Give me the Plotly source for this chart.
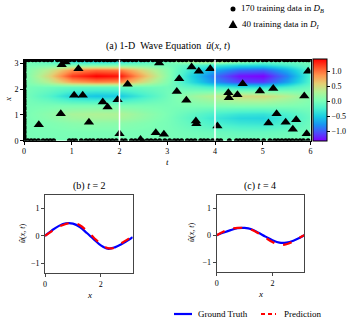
import numpy as np
import plotly.graph_objects as go

# heatmap grid
t_grid = [0, 0.5, 1.0, 1.5, 2.0, 2.5, 3.0, 3.5, 4.0, 4.5, 5.0, 5.5, 6.0]
x_grid = [0, 0.35, 0.7, 0.88, 1.05, 1.4, 1.76, 2.1, 2.3, 2.53, 2.75, 2.95, 3.1416]
u_grid = [
    [0, 0, 0, 0, 0, 0, 0, 0, 0, 0, 0, 0, 0],
    [0, .01, .02, .02, .02, .01, 0, -.04, -.07, -.1, -.1, -.07, -.02],
    [0, .04, .1, .12, .11, .06, 0, -.12, -.25, -.33, -.35, -.23, -.05],
    [0, .09, .21, .25, .24, .13, .01, -.16, -.32, -.43, -.45, -.29, -.07],
    [0, .11, .26, .3, .29, .15, .02, -.12, -.25, -.33, -.35, -.23, -.05],
    [0, 0, 0, 0, 0, 0, 0, .04, .07, .1, .1, .07, .02],
    [0, -.19, -.47, -.55, -.52, -.28, -.04, .18, .35, .48, .5, .33, .08],
    [0, -.04, -.09, -.1, -.1, -.05, -.03, -.15, -.28, -.38, -.4, -.26, -.06],
    [0, .32, .78, .92, .88, .47, .06, -.4, -.8, -1.08, -1.12, -.72, -.17],
    [0, .5, 1.2, 1.4, 1.33, .72, .12, -.47, -.93, -1.27, -1.32, -.86, -.2],
    [0, .35, .85, 1.0, .95, .5, .08, -.34, -.68, -.93, -.98, -.64, -.15],
    [0, 0, 0, 0, 0, 0, -.02, -.14, -.27, -.37, -.39, -.25, -.06],
    [0, -.21, -.51, -.6, -.57, -.3, -.06, .45, .6, .35, .1, .05, .02],
]

# boundary training points
left_x = [0.05, 0.12, 0.2, 0.31, 0.38, 0.47, 0.55, 0.66, 0.74, 0.83, 0.95, 1.02, 1.1, 1.22, 1.3,
          1.41, 1.5, 1.58, 1.69, 1.77, 1.86, 1.95, 2.08, 2.15, 2.24, 2.33, 2.45, 2.52, 2.6, 2.71,
          2.8, 2.89, 2.97, 3.05, 3.12]
bottom_t = [0.08, 0.15, 0.22, 0.3, 0.4, 0.48, 0.55, 0.62, 0.95, 1.02, 1.08, 1.2, 1.3, 1.38, 1.45,
            1.55, 1.62, 1.7, 1.78, 1.85, 1.93, 2.05, 2.12, 2.25, 2.33, 2.48, 2.58, 2.66, 2.75, 2.84,
            2.95, 3.05, 3.15, 3.22, 3.3, 3.42, 3.5, 3.58, 3.7, 3.77, 3.85, 3.95, 4.05, 4.12, 4.3,
            4.45, 4.52, 4.6, 4.67, 4.75, 4.82, 4.9, 5.02, 5.15, 5.25, 5.32, 5.4, 5.48, 5.55, 5.62,
            5.7, 5.78, 5.85, 5.95]
top_t = [0.04, 0.1, 0.18, 0.25, 0.33, 0.42, 0.5, 0.58, 0.7, 0.78, 0.88, 0.96, 1.05, 1.15, 1.22,
         1.32, 1.4, 1.5, 1.58, 1.67, 1.75, 1.82, 1.9, 2.0, 2.1, 2.18, 2.27, 2.35, 2.45, 2.52,
         2.6, 2.7, 2.78, 2.88, 2.97, 3.06, 3.14, 3.24, 3.32, 3.4, 3.5, 3.6, 3.68, 3.76, 3.85,
         3.93, 4.02, 4.1, 4.2, 4.28, 4.37, 4.45, 4.55, 4.63, 4.72, 4.8, 4.9, 5.0, 5.08, 5.18,
         5.27, 5.35, 5.45, 5.52, 5.6, 5.68, 5.77, 5.85, 5.92, 5.96, 5.99]

# interior training points
tri_t = [0.31, 0.77, 0.79, 0.87, 1.14, 1.05, 1.23, 1.36, 1.65, 1.75, 1.96, 2.0, 2.17, 2.44, 2.76,
         2.93, 2.83, 3.25, 3.2, 3.4, 3.51, 3.66, 3.6, 3.61, 3.9, 4.05, 4.58, 4.28, 4.29, 4.47,
         4.94, 5.22, 5.87, 5.95, 5.29, 5.12, 5.48, 5.7, 5.63, 5.92]
tri_x = [0.62, 1.05, 2.95, 3.05, 2.79, 1.76, 1.76, 0.72, 1.5, 1.31, 1.59, 0.27, 2.19, 0.05, 0.31,
         0.25, 3.01, 2.4, 1.91, 1.57, 2.86, 2.69, 0.76, 0.66, 2.79, 0.57, 2.21, 1.86, 1.67, 1.78,
         1.93, 2.02, 1.73, 2.69, 1.05, 0.69, 0.72, 0.81, 0.44, 0.27]

# slices
x_line = [0, 0.25, 0.5, 0.75, 1.0, 1.25, 1.5, 1.75, 2.0, 2.25, 2.5, 2.75, 3.0, 3.1416]
gt_t2 = [0, 0.2, 0.36, 0.45, 0.44, 0.32, 0.1, -0.13, -0.35, -0.47, -0.42, -0.3, -0.15, -0.05]
pr_t2 = [0, 0.17, 0.33, 0.43, 0.47, 0.38, 0.18, -0.07, -0.3, -0.45, -0.43, -0.26, -0.1, 0.0]
gt_t4 = [0, 0.1, 0.19, 0.26, 0.27, 0.22, 0.09, -0.05, -0.18, -0.27, -0.27, -0.2, -0.08, 0]
pr_t4 = [0, 0.14, 0.23, 0.27, 0.27, 0.2, 0.07, -0.09, -0.25, -0.35, -0.33, -0.22, -0.07, 0]

FONT = "Liberation Serif"
W, H = 354, 325

# matplotlib 'rainbow'
rainbow = []
for f in np.linspace(0, 1, 11):
    r = min(1, abs(2 * f - 0.5)); g = np.sin(np.pi * f); b = max(0, np.cos(np.pi * f / 2))
    rainbow.append([float(f), f"rgb({int(r*255)},{int(g*255)},{int(b*255)})"])

def px(x0, x1):
    return [x0 / W, x1 / W]

def py(y0, y1):  # top, bottom in pixels
    return [1 - y1 / H, 1 - y0 / H]

fig = go.Figure()
fig.add_trace(go.Heatmap(x=t_grid, y=x_grid, z=u_grid, zsmooth="best", colorscale=rainbow,
                         zmin=-1.33, zmax=1.4, xaxis="x", yaxis="y", showlegend=False,
                         colorbar=dict(x=313 / W, xanchor="left", thickness=14, len=82 / H,
                                       lenmode="fraction", y=1 - 100 / H, yanchor="middle",
                                       ypad=0, xpad=0,
                                       outlinewidth=1, outlinecolor="black",
                                       tickmode="array", tickvals=[-1, -0.5, 0, 0.5, 1],
                                       ticktext=["−1.0", "−0.5", "0.0", "0.5", "1.0"],
                                       ticks="outside", ticklen=3, tickcolor="black",
                                       tickfont=dict(family=FONT, size=8, color="black"))))

bt = [0] * len(left_x) + bottom_t + top_t
bx = left_x + [0] * len(bottom_t) + [3.1416] * len(top_t)
fig.add_trace(go.Scatter(x=bt, y=bx, mode="markers", xaxis="x", yaxis="y", showlegend=False,
                         marker=dict(symbol="circle", size=5, color="black"),
                         name="170 training data in D_B"))
fig.add_trace(go.Scatter(x=tri_t, y=tri_x, mode="markers", xaxis="x", yaxis="y", showlegend=False,
                         marker=dict(symbol="triangle-up", size=9, color="black"),
                         name="40 training data in D_I"))

fig.add_trace(go.Scatter(x=x_line, y=gt_t2, mode="lines", line=dict(color="blue", width=2.2, shape="spline"),
                         xaxis="x2", yaxis="y2", name="Ground Truth", showlegend=False))
fig.add_trace(go.Scatter(x=x_line, y=pr_t2, mode="lines", line=dict(color="red", width=2.2, dash="dash", shape="spline"),
                         xaxis="x2", yaxis="y2", name="Prediction", showlegend=False))
fig.add_trace(go.Scatter(x=x_line, y=gt_t4, mode="lines", line=dict(color="blue", width=2.2, shape="spline"),
                         xaxis="x3", yaxis="y3", showlegend=False))
fig.add_trace(go.Scatter(x=x_line, y=pr_t4, mode="lines", line=dict(color="red", width=2.2, dash="dash", shape="spline"),
                         xaxis="x3", yaxis="y3", showlegend=False))

for tv in [2, 4]:
    fig.add_shape(type="line", x0=tv, x1=tv, y0=0, y1=1, xref="x", yref="y domain",
                  line=dict(color="white", width=1.5))

# legend keys
def P(x, y):
    return f"{x / W:.4f},{1 - y / H:.4f}"

fig.add_shape(type="circle", xref="paper", yref="paper", x0=230.5 / W, x1=235.5 / W,
              y0=1 - 11.5 / H, y1=1 - 6.5 / H, fillcolor="black", line=dict(width=0))
fig.add_shape(type="path", xref="paper", yref="paper",
              path=f"M{P(228.5, 28)} L{P(237.5, 28)} L{P(233, 20)} Z",
              fillcolor="black", line=dict(width=0))
fig.add_shape(type="line", xref="paper", yref="paper", x0=174 / W, x1=192 / W,
              y0=1 - 314 / H, y1=1 - 314 / H, line=dict(color="blue", width=2.2))
fig.add_shape(type="line", xref="paper", yref="paper", x0=261 / W, x1=276 / W,
              y0=1 - 314 / H, y1=1 - 314 / H, line=dict(color="red", width=2.2, dash="4px,3px"))

tickf = dict(family=FONT, size=8, color="black")
ax = dict(showgrid=False, zeroline=False, ticks="outside", ticklen=3, tickcolor="black",
          showline=True, linecolor="black", linewidth=1, mirror=True, tickfont=tickf,
          color="black")
sub = dict(ax, linecolor="#444", tickcolor="#444")

fig.update_layout(
    template="none",
    width=W, height=H, margin=dict(l=0, r=0, t=0, b=0),
    paper_bgcolor="white", plot_bgcolor="white", showlegend=False,
    font=dict(family=FONT, size=8, color="black"),
    xaxis=dict(ax, domain=px(24, 310.5), range=[0, 6], tickvals=[0, 1, 2, 3, 4, 5, 6], anchor="y"),
    yaxis=dict(ax, domain=py(59.7, 140.7), range=[0, 3.1416], tickvals=[0, 1, 2, 3], anchor="x"),
    xaxis2=dict(sub, domain=px(45, 132.7), range=[0, 3.1416], tickvals=[0, 2], anchor="y2"),
    yaxis2=dict(sub, domain=py(195, 273), range=[-1.35, 1.48], tickvals=[-1, 0, 1],
                ticktext=["−1", "0", "1"], anchor="x2"),
    xaxis3=dict(sub, domain=px(216.7, 304.3), range=[0, 3.1416], tickvals=[0, 2], anchor="y3"),
    yaxis3=dict(sub, domain=py(195, 272), range=[-1.35, 1.48], tickvals=[-1, 0, 1],
                ticktext=["−1", "0", "1"], anchor="x3"),
)

NB = "\u00a0"
ann = [
    (f"(a) 1-D{NB}{NB}Wave Equation{NB}{NB}<i>û</i>(<i>x</i>, <i>t</i>)", 168, 46, 0, 10, "center"),
    ("<i>t</i>", 167, 162, 0, 9, "center"),
    ("<i>x</i>", 8, 100, -90, 9, "center"),
    (f"(b) <i>t</i>{NB}={NB}2", 89, 186, 0, 10, "center"),
    (f"(c) <i>t</i>{NB}={NB}4", 260, 186, 0, 10, "center"),
    ("<i>û</i>(<i>x</i>, <i>t</i>)", 22, 234, -90, 8, "center"),
    ("<i>û</i>(<i>x</i>, <i>t</i>)", 191, 233, -90, 8, "center"),
    ("<i>x</i>", 89, 295, 0, 9, "center"),
    ("<i>x</i>", 260, 294, 0, 9, "center"),
    ("170 training data in <i>D<sub>B</sub></i>", 240, 9, 0, 9, "left"),
    ("40 training data in <i>D<sub>I</sub></i>", 241, 24, 0, 9, "left"),
    ("Ground Truth", 197, 314, 0, 9, "left"),
    ("Prediction", 283, 314, 0, 9, "left"),
]
for text, xx, yy, ang, sz, anc in ann:
    fig.add_annotation(text=text, x=xx / W, y=1 - yy / H, xref="paper", yref="paper",
                       showarrow=False, textangle=ang, xanchor=anc, yanchor="middle",
                       borderpad=0, font=dict(family=FONT, size=sz, color="black"))

fig.write_html("out.html", config={"displayModeBar": False},
               post_script="document.body.style.margin='0';")
